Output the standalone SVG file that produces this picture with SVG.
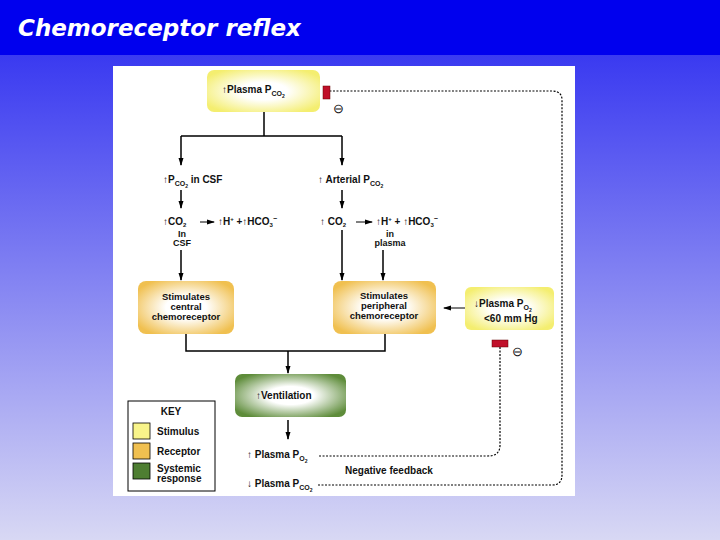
<svg xmlns="http://www.w3.org/2000/svg" width="720" height="540" viewBox="0 0 720 540">
<defs>
<linearGradient id="bg" x1="0" y1="0" x2="0" y2="1"><stop offset="0" stop-color="#2828f0"/><stop offset="1" stop-color="#d8d8f4"/></linearGradient>
<radialGradient id="gy" cx="0.5" cy="0.5" r="0.6"><stop offset="0.35" stop-color="#ffffff"/><stop offset="1" stop-color="#f4ee70"/></radialGradient>
<radialGradient id="go" cx="0.5" cy="0.5" r="0.6"><stop offset="0.35" stop-color="#ffffff"/><stop offset="1" stop-color="#f0c050"/></radialGradient>
<radialGradient id="gg" cx="0.5" cy="0.5" r="0.6"><stop offset="0.35" stop-color="#ffffff"/><stop offset="1" stop-color="#5e8c3a"/></radialGradient>
<marker id="ar" markerWidth="8" markerHeight="8" refX="7" refY="4" orient="auto" markerUnits="userSpaceOnUse"><path d="M0,1.5 L8,4 L0,6.5 Z" fill="#000"/></marker>
<style>
text{font-family:"Liberation Sans",Arial,sans-serif;font-weight:bold;font-size:10px;fill:#111}
.c{text-anchor:middle}
.b{font-size:9.5px}
.s{font-size:7px}
.ln{stroke:#000;stroke-width:1.5;fill:none}
.d{stroke:#000;stroke-width:1.2;fill:none;stroke-dasharray:2,1.5}
.red{fill:#c0102a;stroke:#600;stroke-width:0.5}
</style>
</defs>
<rect width="720" height="540" fill="url(#bg)"/>
<rect width="720" height="55" fill="#0000ee"/>
<text x="18" y="36" style="font-family:'DejaVu Sans',sans-serif;font-style:italic;font-size:23px;fill:#fff;font-weight:bold">Chemoreceptor reflex</text>
<rect x="113" y="66" width="462" height="430" fill="#fff"/>

<g id="connectors">
<path class="ln" d="M264,112 V136 M181,136 H342"/>
<path class="ln" d="M181,136 V165" marker-end="url(#ar)"/>
<path class="ln" d="M342,136 V165" marker-end="url(#ar)"/>
<path class="ln" d="M181,190 V208" marker-end="url(#ar)"/>
<path class="ln" d="M342,190 V208" marker-end="url(#ar)"/>
<path class="ln" d="M200,222 H214" marker-end="url(#ar)" style="stroke-width:1"/>
<path class="ln" d="M356,222 H372" marker-end="url(#ar)" style="stroke-width:1"/>
<path class="ln" d="M181,250 V280" marker-end="url(#ar)"/>
<path class="ln" d="M342,230 V280" marker-end="url(#ar)"/>
<path class="ln" d="M383,250 V280" marker-end="url(#ar)"/>
<path class="ln" d="M465,308 H444" marker-end="url(#ar)" style="stroke-width:1"/>
<path class="ln" d="M186,334 V351 H385 V334"/>
<path class="ln" d="M288,351 V373" marker-end="url(#ar)"/>
<path class="ln" d="M288,420 V439" marker-end="url(#ar)"/>
<path class="d" d="M500,347 V445 Q500,456 488,456 H318"/>
<path class="d" d="M318,485 H552 Q562,485 562,475 V100 Q562,91 552,91 H330"/>
</g>

<g id="n-plasma-pco2"><rect x="207" y="70" width="113" height="42" rx="7" fill="url(#gy)"/>
<text x="222" y="93">↑Plasma  P<tspan class="s" dy="3">CO</tspan><tspan style="font-size:5px" dy="2">2</tspan></text></g>
<g id="inhib1"><rect class="red" x="323" y="86" width="7" height="13"/><text x="333" y="113" style="font-size:13px;font-weight:normal">⊖</text></g>

<g id="n-csf"><text x="163" y="183">↑P<tspan class="s" dy="3">CO</tspan><tspan style="font-size:5px" dy="2">2</tspan><tspan dy="-5"> in CSF</tspan></text></g>
<g id="n-arterial"><text x="318" y="183">↑ Arterial P<tspan class="s" dy="3">CO</tspan><tspan style="font-size:5px" dy="2">2</tspan></text></g>
<g id="n-co2-csf"><text x="163" y="225">↑CO<tspan style="font-size:6px" dy="2">2</tspan></text>
<text x="218" y="225">↑H<tspan style="font-size:6px" dy="-4">+</tspan><tspan dy="4"> +↑HCO</tspan><tspan style="font-size:6px" dy="2">3</tspan><tspan style="font-size:7px" dy="-6">−</tspan></text>
<text class="c" x="182" y="237" style="font-size:9px">In</text><text class="c" x="182" y="246" style="font-size:9px">CSF</text></g>
<g id="n-co2-plasma"><text x="320" y="225">↑ CO<tspan style="font-size:6px" dy="2">2</tspan></text>
<text x="376" y="225">↑H<tspan style="font-size:6px" dy="-4">+</tspan><tspan dy="4"> + ↑HCO</tspan><tspan style="font-size:6px" dy="2">3</tspan><tspan style="font-size:7px" dy="-6">−</tspan></text>
<text class="c" x="390" y="237" style="font-size:9px">in</text><text class="c" x="390" y="246" style="font-size:9px">plasma</text></g>

<g id="n-central"><rect x="138" y="281" width="96" height="53" rx="8" fill="url(#go)"/>
<text class="c b" x="186" y="300">Stimulates</text><text class="c b" x="186" y="310">central</text><text class="c b" x="186" y="320">chemoreceptor</text></g>
<g id="n-peripheral"><rect x="333" y="281" width="103" height="53" rx="8" fill="url(#go)"/>
<text class="c b" x="384" y="299">Stimulates</text><text class="c b" x="384" y="309">peripheral</text><text class="c b" x="384" y="319">chemoreceptor</text></g>
<g id="n-po2"><rect x="465" y="287" width="89" height="43" rx="6" fill="url(#gy)"/>
<text x="474" y="307">↓Plasma  P<tspan class="s" dy="3">O</tspan><tspan style="font-size:5px" dy="2">2</tspan></text>
<text x="484" y="322">&lt;60 mm Hg</text></g>
<g id="inhib2"><rect class="red" x="492" y="340" width="16" height="7"/><text x="512" y="356" style="font-size:13px;font-weight:normal">⊖</text></g>

<g id="n-ventilation"><rect x="235" y="374" width="111" height="43" rx="7" fill="url(#gg)"/>
<text x="256" y="399">↑Ventilation</text></g>

<g id="n-out"><text x="247" y="458">↑ Plasma  P<tspan class="s" dy="3">O</tspan><tspan style="font-size:5px" dy="2">2</tspan></text>
<text x="345" y="474">Negative feedback</text>
<text x="247" y="487">↓ Plasma  P<tspan class="s" dy="3">CO</tspan><tspan style="font-size:5px" dy="2">2</tspan></text></g>

<g id="key"><rect x="128" y="401" width="87" height="90" fill="#fff" stroke="#000" stroke-width="1"/>
<text class="c" x="171" y="415">KEY</text>
<rect x="133" y="423" width="17" height="16" fill="#f8f48a" stroke="#000" stroke-width="0.8"/><text x="157" y="435">Stimulus</text>
<rect x="133" y="443" width="17" height="16" fill="#f0c050" stroke="#000" stroke-width="0.8"/><text x="157" y="455">Receptor</text>
<rect x="133" y="463" width="17" height="16" fill="#4e7e32" stroke="#000" stroke-width="0.8"/><text x="157" y="472">Systemic</text><text x="157" y="482">response</text></g>
</svg>
